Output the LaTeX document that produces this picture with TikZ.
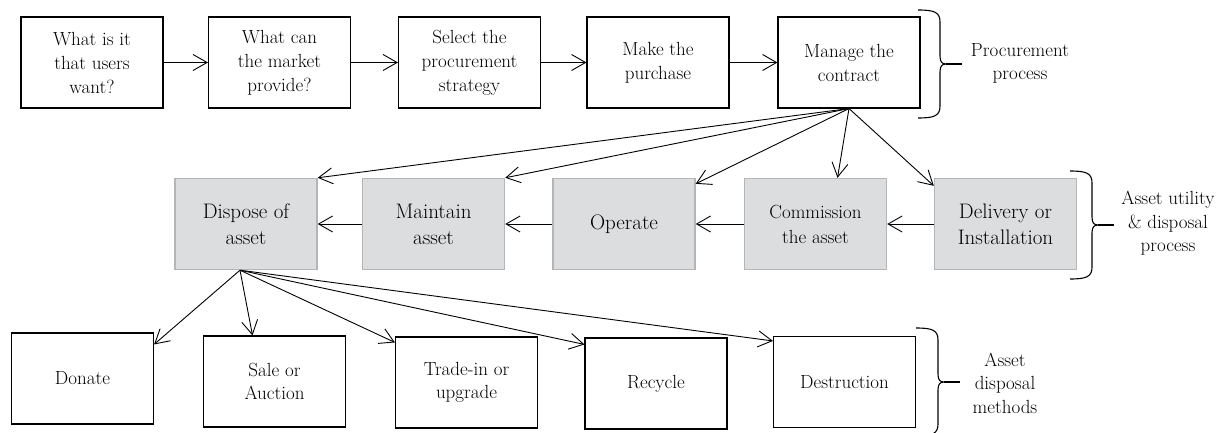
\documentclass[tikz,border=0pt]{standalone}
\usetikzlibrary{arrows.meta}

\definecolor{utilfill}{HTML}{DCDDDF}
\definecolor{utilline}{HTML}{B4B5B7}

\tikzset{
  procbox/.style={draw, line width=1.1pt, minimum width=142pt, minimum height=91pt,
    inner sep=2pt, align=center, font=\fontsize{19}{24}\selectfont},
  utilbox/.style={procbox, draw=utilline, fill=utilfill, line width=1.4pt,
    font=\fontsize{21}{26}\selectfont},
  methodbox/.style={procbox, font=\fontsize{19}{23}\selectfont},
  grouplabel/.style={align=center, inner sep=0pt, font=\fontsize{19}{23.5}\selectfont},
  bracepath/.style={line width=1.1pt},
  bracetip/.style={line width=2pt}
}

\begin{document}
\begin{tikzpicture}[x=1pt, y=-1pt, line width=0.9pt]
  \useasboundingbox (0,0) rectangle (1225,433);

  % procurement
  \node[procbox] (want) at (92,62.5) {What is it\\that users\\want?};
  \node[procbox] (market) at (279.5,62.5) {What can\\the market\\provide?};
  \node[procbox] (strategy) at (469.5,62.5) {Select the\\procurement\\strategy};
  \node[procbox] (purchase) at (658,62.5) {Make the\\purchase};
  \node[procbox] (contract) at (849,62.5) {Manage the\\contract};

  % utility and disposal
  \node[utilbox] (dispose) at (246,224) {Dispose of\\asset};
  \node[utilbox] (maintain) at (433.5,224) {Maintain\\asset};
  \node[utilbox] (operate) at (624,224) {Operate};
  \node[utilbox, font=\fontsize{19}{25}\selectfont] (commission) at (815.5,224) {Commission\\the asset};
  \node[utilbox] (delivery) at (1005.5,224) {Delivery or\\Installation};

  % disposal methods
  \node[methodbox] (donate) at (82.5,378.5) {Donate};
  \node[methodbox] (sale) at (274.5,381.5) {Sale or\\Auction};
  \node[methodbox] (tradein) at (466.5,382.5) {Trade-in or\\upgrade};
  \node[methodbox] (recycle) at (656,383.5) {Recycle};
  \node[methodbox] (destruction) at (844.5,382) {Destruction};

  \coordinate (disposefoot) at ([xshift=-6pt]dispose.south);

  \begin{scope}[-{Straight Barb[length=14pt,width=16pt]}]
    \draw (want) to (market);
    \draw (market) to (strategy);
    \draw (strategy) to (purchase);
    \draw (purchase) to (contract);
    \draw (contract.south) to (dispose.north east);
    \draw (contract.south) to (maintain.north east);
    \draw (contract.south) to ([yshift=-6pt]operate.north east);
    \draw (contract.south) to ([xshift=22pt]commission.north);
    \draw (contract.south) to ([yshift=-8pt]delivery.north west);
    \draw (delivery) to (commission);
    \draw (commission) to (operate);
    \draw (operate) to (maintain);
    \draw (maintain) to (dispose);
    \draw (disposefoot) to ([yshift=-12pt]donate.north east);
    \draw (disposefoot) to ([xshift=-22pt]sale.north);
    \draw (disposefoot) to ([yshift=-6pt]tradein.north west);
    \draw (disposefoot) to ([yshift=-7pt]recycle.north west);
    \draw (disposefoot) to ([yshift=-5pt]destruction.north west);
  \end{scope}

  % braces
  \foreach \bx/\by in {918/10, 1070/171, 916/328} {
    \draw[bracepath] (\bx,\by) .. controls (\bx+16,\by) and (\bx+22,\by+2) .. (\bx+22,\by+12)
      -- (\bx+22,\by+46) .. controls (\bx+22,\by+52) and (\bx+24,\by+54) .. (\bx+28,\by+54)
      .. controls (\bx+24,\by+54) and (\bx+22,\by+56) .. (\bx+22,\by+62)
      -- (\bx+22,\by+96) .. controls (\bx+22,\by+106) and (\bx+16,\by+108) .. (\bx,\by+108);
    \draw[bracetip] (\bx+28,\by+54) -- (\bx+44,\by+54);
  }

  % group names
  \node[grouplabel] (proclabel) at (1020,63.5) {Procurement\\process};
  \node[grouplabel] (utillabel) at (1168,223.5) {Asset utility\\\& disposal\\process};
  \node[grouplabel] (methodlabel) at (1005,383) {Asset\\disposal\\methods};
\end{tikzpicture}
\end{document}
